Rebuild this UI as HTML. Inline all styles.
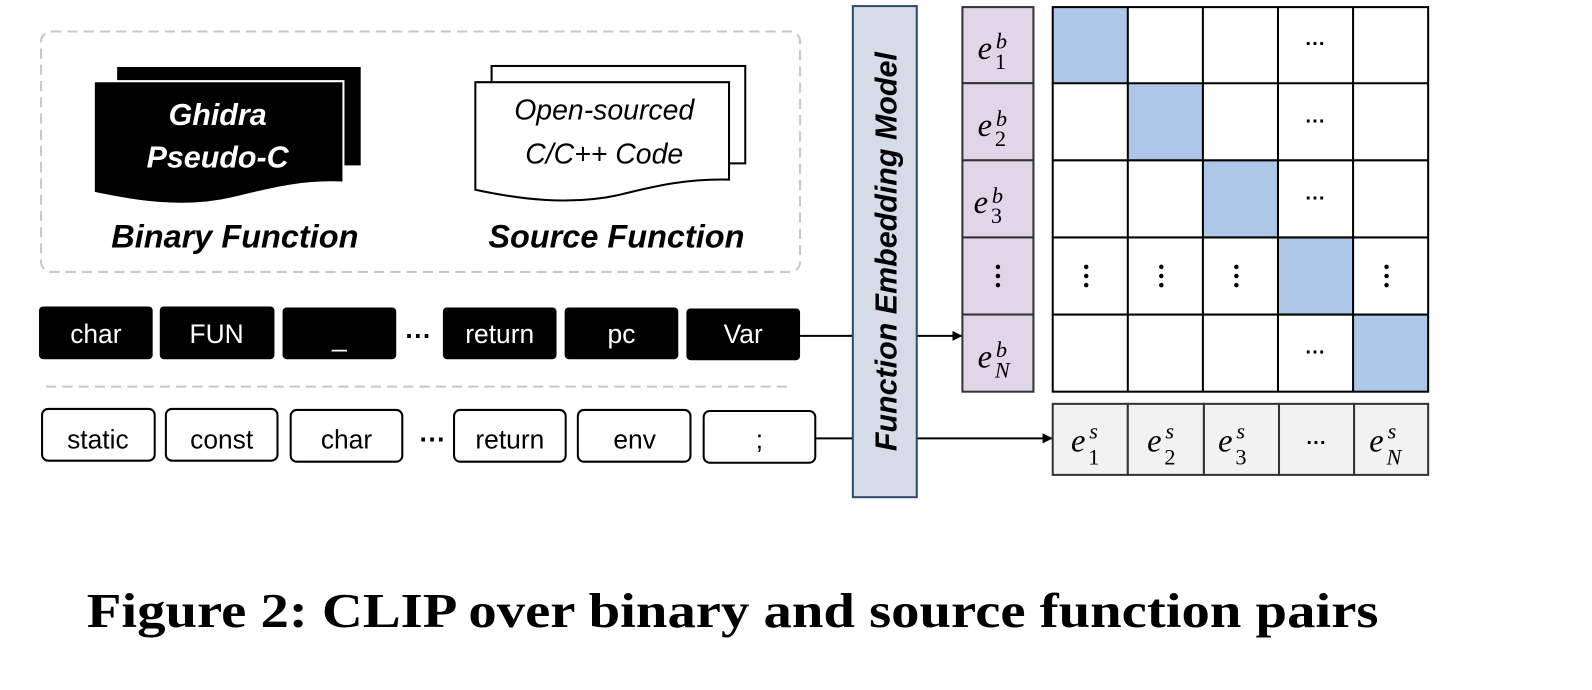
<!DOCTYPE html>
<html><head><meta charset="utf-8"><style>
html,body{margin:0;padding:0;background:#fff;}
svg{display:block}
</style></head><body>
<svg width="1592" height="690" viewBox="0 0 1568 680" xmlns="http://www.w3.org/2000/svg">
<defs>
<marker id="ar" markerWidth="10" markerHeight="10" refX="9" refY="5" orient="auto" markerUnits="userSpaceOnUse">
<path d="M0,0 L10,5 L0,10 z" fill="#000"/></marker>
</defs>
<rect x="40" y="31" width="748" height="237" rx="10" fill="none" stroke="#c8c8c8" stroke-width="2" stroke-dasharray="10,6"/>
<rect x="115" y="66" width="240" height="97" fill="#000"/>
<path d="M92,80 L338,80 L338,180 C300,178 270,185 230,195 C180,207 130,198 92,190 Z" fill="#000" stroke="#fff" stroke-width="2"/>
<g font-family="Liberation Sans, sans-serif" font-weight="bold" font-style="italic" fill="#fff" font-size="30" text-anchor="middle">
<text x="214" y="123">Ghidra</text><text x="214" y="165">Pseudo-C</text></g>
<rect x="484" y="65" width="250" height="96" fill="#fff" stroke="#000" stroke-width="2"/>
<path d="M468,81 L718,81 L718,177 C680,176 650,182 610,192 C560,203 510,196 468,187 Z" fill="#fff" stroke="#000" stroke-width="2"/>
<g font-family="Liberation Sans, sans-serif" font-style="italic" fill="#000" font-size="28" text-anchor="middle">
<text x="595" y="118">Open-sourced</text><text x="595" y="161">C/C++ Code</text></g>
<g font-family="Liberation Sans, sans-serif" font-weight="bold" font-style="italic" fill="#000" font-size="32" text-anchor="middle">
<text x="231" y="244">Binary Function</text><text x="607" y="244">Source Function</text></g>
<g font-family="Liberation Sans, sans-serif" font-size="26" text-anchor="middle">
<g fill="#000">
<rect x="38" y="302" width="112" height="52" rx="4"/>
<rect x="157" y="302" width="113" height="52" rx="4"/>
<rect x="278" y="303" width="112" height="51" rx="4"/>
<rect x="436" y="303" width="112" height="51" rx="4"/>
<rect x="556" y="303" width="112" height="51" rx="4"/>
<rect x="676" y="304" width="112" height="51" rx="4"/>
</g>
<g fill="#fff">
<text x="94" y="338">char</text><text x="213" y="338">FUN</text><text x="334" y="341">_</text>
<text x="492" y="338">return</text><text x="612" y="338">pc</text><text x="732" y="338">Var</text></g>
<text x="412" y="340" fill="#000" font-weight="bold">···</text>
<line x1="45" y1="381" x2="775" y2="381" stroke="#c8c8c8" stroke-width="2" stroke-dasharray="10,6"/>
<g fill="#fff" stroke="#000" stroke-width="2">
<rect x="41" y="403" width="111" height="51" rx="6"/>
<rect x="163" y="403" width="110" height="51" rx="6"/>
<rect x="286" y="404" width="110" height="51" rx="6"/>
<rect x="447" y="404" width="110" height="51" rx="6"/>
<rect x="569" y="404" width="111" height="51" rx="6"/>
<rect x="693" y="405" width="110" height="51" rx="6"/>
</g>
<g fill="#000">
<text x="96" y="442">static</text><text x="218" y="442">const</text><text x="341" y="442">char</text>
<text x="502" y="442">return</text><text x="625" y="442">env</text><text x="748" y="442">;</text>
<text x="426" y="442" font-weight="bold">···</text></g>
</g>
<line x1="788" y1="331" x2="840" y2="331" stroke="#000" stroke-width="2"/>
<line x1="903" y1="331" x2="947" y2="331" stroke="#000" stroke-width="2" marker-end="url(#ar)"/>
<line x1="803" y1="432" x2="840" y2="432" stroke="#000" stroke-width="2"/>
<line x1="903" y1="432" x2="1036" y2="432" stroke="#000" stroke-width="2" marker-end="url(#ar)"/>
<rect x="840" y="6" width="63" height="484" fill="#d6dce5" stroke="#2f4a6e" stroke-width="2"/>
<text transform="translate(883,248) rotate(-90)" text-anchor="middle" font-family="Liberation Sans, sans-serif" font-weight="bold" font-style="italic" font-size="30" fill="#000">Function Embedding Model</text>
<g stroke="#333" stroke-width="2" fill="#e1d5e7">
<rect x="948" y="7" width="70" height="75"/><rect x="948" y="82" width="70" height="76"/>
<rect x="948" y="158" width="70" height="76"/><rect x="948" y="234" width="70" height="76"/>
<rect x="948" y="310" width="70" height="76"/></g>
<g font-family="Liberation Serif, serif" font-style="italic" fill="#000">
<text x="963" y="58" font-size="32">e</text><text x="981" y="48" font-size="22">b</text><text x="980" y="68" font-size="22" font-style="normal">1</text>
<text x="963" y="134" font-size="32">e</text><text x="981" y="124" font-size="22">b</text><text x="980" y="144" font-size="22" font-style="normal">2</text>
<text x="959" y="210" font-size="32">e</text><text x="977" y="200" font-size="22">b</text><text x="976" y="220" font-size="22" font-style="normal">3</text>
<text x="963" y="362" font-size="32">e</text><text x="981" y="352" font-size="22">b</text><text x="980" y="372" font-size="22">N</text>
</g>
<g fill="#000"><circle cx="983" cy="263" r="2.2"/><circle cx="983" cy="272" r="2.2"/><circle cx="983" cy="281" r="2.2"/></g>
<g fill="#aec6e8">
<rect x="1037" y="7" width="74" height="75"/><rect x="1111" y="82" width="74" height="76"/>
<rect x="1185" y="158" width="74" height="76"/><rect x="1259" y="234" width="74" height="76"/>
<rect x="1333" y="310" width="74" height="76"/></g>
<g stroke="#000" stroke-width="2" fill="none">
<rect x="1037" y="7" width="370" height="379"/>
<line x1="1111" y1="7" x2="1111" y2="386"/><line x1="1185" y1="7" x2="1185" y2="386"/>
<line x1="1259" y1="7" x2="1259" y2="386"/><line x1="1333" y1="7" x2="1333" y2="386"/>
<line x1="1037" y1="82" x2="1407" y2="82"/><line x1="1037" y1="158" x2="1407" y2="158"/>
<line x1="1037" y1="234" x2="1407" y2="234"/><line x1="1037" y1="310" x2="1407" y2="310"/>
</g>
<g font-family="Liberation Sans, sans-serif" font-weight="bold" font-size="20" text-anchor="middle" fill="#000">
<text x="1296" y="50">···</text><text x="1296" y="126">···</text><text x="1296" y="202">···</text><text x="1296" y="354">···</text></g>
<g fill="#000">
<circle cx="1070" cy="263" r="2.2"/><circle cx="1070" cy="272" r="2.2"/><circle cx="1070" cy="281" r="2.2"/>
<circle cx="1144" cy="263" r="2.2"/><circle cx="1144" cy="272" r="2.2"/><circle cx="1144" cy="281" r="2.2"/>
<circle cx="1218" cy="263" r="2.2"/><circle cx="1218" cy="272" r="2.2"/><circle cx="1218" cy="281" r="2.2"/>
<circle cx="1366" cy="263" r="2.2"/><circle cx="1366" cy="272" r="2.2"/><circle cx="1366" cy="281" r="2.2"/></g>
<g stroke="#333" stroke-width="2" fill="#f2f2f2">
<rect x="1037" y="398" width="74" height="70"/><rect x="1111" y="398" width="75" height="70"/>
<rect x="1186" y="398" width="74" height="70"/><rect x="1260" y="398" width="74" height="70"/>
<rect x="1334" y="398" width="73" height="70"/></g>
<g font-family="Liberation Serif, serif" font-style="italic" fill="#000">
<text x="1055" y="445" font-size="32">e</text><text x="1073" y="432" font-size="22">s</text><text x="1072" y="458" font-size="22" font-style="normal">1</text>
<text x="1130" y="445" font-size="32">e</text><text x="1148" y="432" font-size="22">s</text><text x="1147" y="458" font-size="22" font-style="normal">2</text>
<text x="1200" y="445" font-size="32">e</text><text x="1218" y="432" font-size="22">s</text><text x="1217" y="458" font-size="22" font-style="normal">3</text>
<text x="1349" y="445" font-size="32">e</text><text x="1367" y="432" font-size="22">s</text><text x="1366" y="458" font-size="22">N</text>
</g>
<text x="1297" y="443" font-family="Liberation Sans, sans-serif" font-weight="bold" font-size="20" text-anchor="middle">···</text>
<text x="85" y="618" font-family="Liberation Serif, serif" font-weight="bold" font-size="48" textLength="1273" lengthAdjust="spacingAndGlyphs" fill="#000">Figure 2: CLIP over binary and source function pairs</text>
</svg>
</body></html>
